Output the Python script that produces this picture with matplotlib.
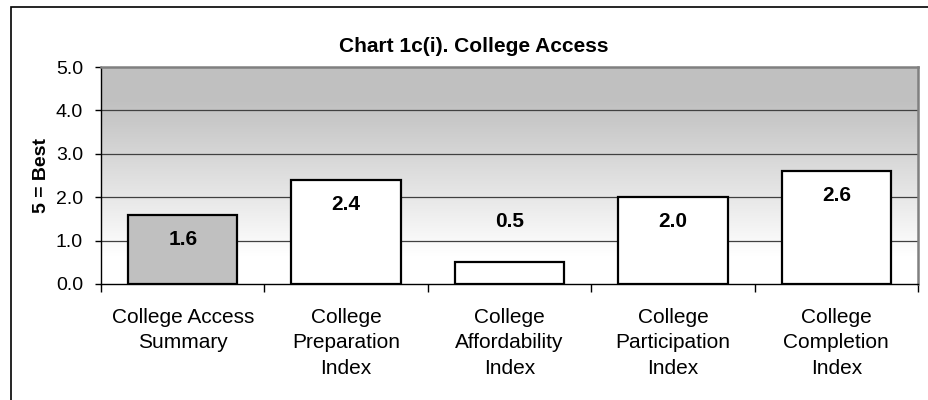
import numpy as np
import matplotlib
matplotlib.use('Agg')
import matplotlib.pyplot as plt
from matplotlib.patches import Rectangle

plt.rcParams['font.family'] = ['Liberation Sans', 'DejaVu Sans']

# Data
categories = ['College Access\nSummary', 'College\nPreparation\nIndex',
              'College\nAffordability\nIndex', 'College\nParticipation\nIndex',
              'College\nCompletion\nIndex']
scores = [1.6, 2.4, 0.5, 2.0, 2.6]
bar_colors = ['#C0C0C0', 'white', 'white', 'white', 'white']

fig = plt.figure(figsize=(9.29, 4.0), dpi=100)
W, H = 929, 400
ax = fig.add_axes([101 / W, (H - 284) / H, 817 / W, 217 / H])

# Outer frame of the chart (right and bottom run off the picture)
fig.patches.append(Rectangle((11 / W, -0.1), 1.2, (H - 7) / H + 0.1,
                             transform=fig.transFigure, fill=False,
                             edgecolor='black', linewidth=1.2))

# Gradient background: grey on top fading to white at the bottom
grad = np.linspace(0, 1, 256)[:, None]
t = np.clip((grad - 0.15) / 0.72, 0, 1)
shade = 0.753 + (1 - 0.753) * t
img = np.dstack([shade, shade, shade])
ax.imshow(img, extent=(-0.5, 4.5, 0.0, 5.0), aspect='auto', zorder=0,
          origin='upper')

x = np.arange(len(scores))
ax.set_xlim(-0.5, len(scores) - 0.5)
ax.set_ylim(0, 5)

for yv in [1, 2, 3, 4]:
    ax.axhline(yv, color='#404040', linewidth=0.9, zorder=1)

ax.bar(x, scores, width=0.67, color=bar_colors, edgecolor='black',
       linewidth=1.6, zorder=2)

for xi, v in zip(x, scores):
    ly = v - 0.57 if v >= 1 else v + 0.95
    ax.text(xi, ly, '%.1f' % v, ha='center', va='center',
            fontsize=15, fontweight='bold', zorder=3)

# Axes styling
ax.spines['top'].set_color('#808080')
ax.spines['right'].set_color('#808080')
ax.spines['top'].set_linewidth(1.8)
ax.spines['right'].set_linewidth(1.8)
ax.spines['left'].set_linewidth(1.0)
ax.spines['bottom'].set_linewidth(1.0)

ax.set_yticks(np.arange(0, 5.01, 1.0))
ax.set_yticklabels(['%.1f' % v for v in np.arange(0, 5.01, 1.0)], fontsize=14)
ax.tick_params(axis='y', direction='out', length=4, width=1, pad=9)

ax.set_xticks(x)
ax.set_xticklabels(categories, fontsize=15, linespacing=1.45)
ax.tick_params(axis='x', which='major', length=0, pad=17)
ax.set_xticks(np.arange(-0.5, len(scores), 1.0), minor=True)
ax.tick_params(axis='x', which='minor', direction='out', length=6, width=1)

ax.set_ylabel('5 = Best', fontsize=14, fontweight='bold', labelpad=4)
fig.text(474 / W, 1 - 47 / H, 'Chart 1c(i). College Access',
         ha='center', va='center', fontsize=15, fontweight='bold')

fig.savefig('out.png', dpi=100)
